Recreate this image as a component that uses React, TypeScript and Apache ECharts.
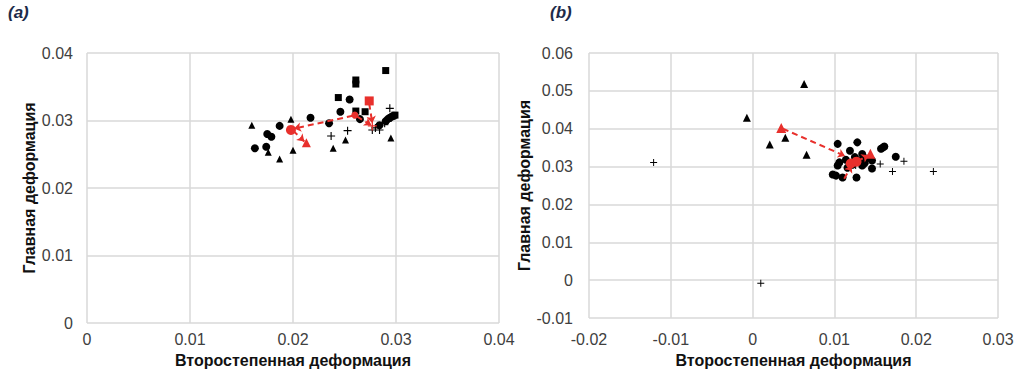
import React, { useEffect, useRef } from "react";
import * as echarts from "echarts";

// ---------- Chart (a) data ----------
const aTriangles: number[][] = [
  [0.016, 0.0293], [0.0198, 0.0302], [0.0176, 0.0253], [0.0187, 0.0243],
  [0.02, 0.0256], [0.0239, 0.0259], [0.0251, 0.0271], [0.0295, 0.0274],
];
const aCircles: number[][] = [
  [0.0163, 0.0259], [0.0174, 0.0261], [0.0175, 0.028], [0.0179, 0.0276],
  [0.0187, 0.0292], [0.0217, 0.0304], [0.0235, 0.0296], [0.0246, 0.0313],
  [0.0265, 0.0302], [0.0255, 0.0331], [0.0284, 0.0293], [0.029, 0.0299],
  [0.0292, 0.0302], [0.0294, 0.0304], [0.0296, 0.0306], [0.0298, 0.0307],
];
const aSquares: number[][] = [
  [0.029, 0.0374], [0.0261, 0.036], [0.0261, 0.0354], [0.0244, 0.0334],
  [0.0261, 0.0314], [0.027, 0.0313], [0.0299, 0.0308],
];
const aCrosses: number[][] = [
  [0.0237, 0.0277], [0.0253, 0.0285], [0.0294, 0.0318], [0.028, 0.0289],
  [0.0284, 0.0286], [0.0289, 0.0296], [0.0292, 0.0299], [0.0277, 0.0286],
];
const aRedCircle: number[][] = [[0.0198, 0.0286]];
const aRedTriangle: number[][] = [[0.0213, 0.0267]];
const aRedSquare: number[][] = [[0.0274, 0.0329]];
const aRedSmall: number[][] = [[0.026, 0.0308]];
const aRedCross: number[][] = [[0.0277, 0.0292]];
const aArrows: number[][][] = [
  [[0.02, 0.0285], [0.0211, 0.0269]],
  [[0.0258, 0.0307], [0.0201, 0.0288]],
  [[0.0262, 0.0306], [0.0276, 0.0293]],
  [[0.0274, 0.0325], [0.0277, 0.0296]],
];

// ---------- Chart (b) data ----------
const bTriangles: number[][] = [
  [0.0063, 0.0518], [-0.0007, 0.0429], [0.0021, 0.0358], [0.004, 0.0376], [0.0066, 0.0331],
];
const bCircles: number[][] = [
  [0.0104, 0.036], [0.0128, 0.0364], [0.0119, 0.0342], [0.0134, 0.0333],
  [0.0125, 0.0325], [0.0106, 0.0311], [0.0104, 0.0303], [0.0116, 0.0297],
  [0.0134, 0.0303], [0.0146, 0.0316], [0.0146, 0.0295], [0.0159, 0.035],
  [0.0161, 0.0353], [0.0175, 0.0326], [0.0098, 0.0279], [0.0102, 0.0276],
  [0.011, 0.0271], [0.0127, 0.0271], [0.0139, 0.0321], [0.013, 0.0316],
  [0.0122, 0.0305], [0.0137, 0.0309], [0.0114, 0.0318], [0.0157, 0.0347],
];
const bCrosses: number[][] = [
  [-0.0121, 0.0311], [0.001, -0.0008], [0.0221, 0.0287], [0.0185, 0.0314],
  [0.0171, 0.0287], [0.0156, 0.0307], [0.0126, 0.0303],
];
const bRedTriangles: number[][] = [[0.0035, 0.0402], [0.0144, 0.0334]];
const bRedCircles: number[][] = [[0.012, 0.0308], [0.0127, 0.0313]];
const bArrows: number[][][] = [
  [[0.0037, 0.04], [0.0113, 0.0328]],
  [[0.0112, 0.0268], [0.0121, 0.0303]],
  [[0.0128, 0.0314], [0.0142, 0.033]],
];

// ---------- Axis ticks ----------
const aXTicks = [0, 0.01, 0.02, 0.03, 0.04];
const aYTicks = [0, 0.01, 0.02, 0.03, 0.04];
const bXTicks = [-0.02, -0.01, 0, 0.01, 0.02, 0.03];
const bYTicks = [-0.01, 0, 0.01, 0.02, 0.03, 0.04, 0.05, 0.06];

const xName = "Второстепенная деформация";
const yName = "Главная деформация";

const PLUS = "path://M4.3,0H5.7V4.3H10V5.7H5.7V10H4.3V5.7H0V4.3H4.3Z";
const FONT = "'Liberation Sans', Arial, sans-serif";
const RED = "#e8302c";

const fmt = (v: number) => {
  if (Math.abs(v) < 1e-9) return "0";
  return String(Math.round(v * 1000) / 1000);
};

export default function App() {
  const ref = useRef<HTMLDivElement>(null);
  useEffect(() => {
    if (!ref.current) return;
    const chart = echarts.init(ref.current, undefined, { renderer: "svg" });
    const axisCommon = (ticks: number[], labelMargin: number) => ({
      type: "value" as const,
      min: ticks[0],
      max: ticks[ticks.length - 1],
      interval: 0.01,
      axisLine: { show: false },
      axisTick: { show: false },
      splitLine: { show: true, lineStyle: { color: "#d9d9d9", width: 1.5 } },
      axisLabel: {
        color: "#404040",
        fontSize: 16,
        fontFamily: FONT,
        margin: labelMargin,
        formatter: fmt,
      },
      nameLocation: "middle" as const,
      nameTextStyle: { color: "#111", fontSize: 16, fontWeight: "bold" as const, fontFamily: FONT },
    });
    const scatter = (data: number[][], idx: number, symbol: string, size: number, color = "#000") => ({
      type: "scatter" as const,
      xAxisIndex: idx,
      yAxisIndex: idx,
      data,
      symbol,
      symbolSize: size,
      itemStyle: { color, opacity: 1 },
      z: color === "#000" ? 2 : 4,
    });
    const arrows = (segs: number[][][], idx: number) => ({
      type: "lines" as const,
      coordinateSystem: "cartesian2d",
      xAxisIndex: idx,
      yAxisIndex: idx,
      symbol: ["none", "arrow"],
      symbolSize: 7,
      lineStyle: { color: RED, width: 2, type: [6, 4] as any, opacity: 1 },
      data: segs.map((s) => ({ coords: s })),
      z: 3,
    });
    chart.setOption({
      animation: false,
      graphic: [
        { type: "text", left: 8, top: 4, style: { text: "(a)", font: `italic bold 17px ${FONT}`, fill: "#1d2b4a" } },
        { type: "text", left: 550, top: 4, style: { text: "(b)", font: `italic bold 17px ${FONT}`, fill: "#1d2b4a" } },
      ],
      grid: [
        { left: 87, width: 412, top: 53, height: 270 },
        { left: 589, width: 409, top: 53, height: 265 },
      ],
      xAxis: [
        { ...axisCommon(aXTicks, 8), gridIndex: 0, name: xName, nameGap: 29 },
        { ...axisCommon(bXTicks, 13), gridIndex: 1, name: xName, nameGap: 34 },
      ],
      yAxis: [
        { ...axisCommon(aYTicks, 14), gridIndex: 0, name: yName, nameGap: 50 },
        { ...axisCommon(bYTicks, 16), gridIndex: 1, name: yName, nameGap: 50 },
      ],
      series: [
        scatter(aTriangles, 0, "triangle", 7),
        scatter(aCircles, 0, "circle", 8),
        scatter(aSquares, 0, "rect", 7),
        scatter(aCrosses, 0, PLUS, 8),
        arrows(aArrows, 0),
        scatter(aRedCircle, 0, "circle", 10, RED),
        scatter(aRedTriangle, 0, "triangle", 9, RED),
        scatter(aRedSquare, 0, "rect", 9, RED),
        scatter(aRedSmall, 0, "circle", 7, RED),
        scatter(aRedCross, 0, PLUS, 9, RED),
        scatter(bTriangles, 1, "triangle", 8),
        scatter(bCircles, 1, "circle", 8),
        scatter(bCrosses, 1, PLUS, 7),
        arrows(bArrows, 1),
        scatter(bRedTriangles, 1, "triangle", 10, RED),
        scatter(bRedCircles, 1, "circle", 10, RED),
      ],
    });
    return () => chart.dispose();
  }, []);
  return (
    <div
      ref={ref}
      style={{ position: "absolute", left: 0, top: 0, width: 1024, height: 382, background: "#fff" }}
    />
  );
}
